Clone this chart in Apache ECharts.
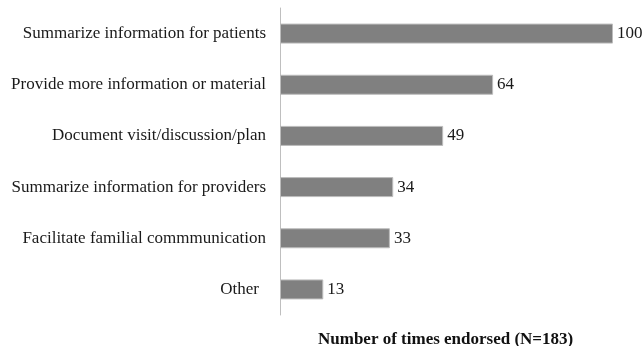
<!DOCTYPE html>
<html>
<head>
<meta charset="utf-8">
<script src="https://cdn.jsdelivr.net/npm/echarts@6/dist/echarts.min.js"></script>
<style>
  html, body { margin: 0; padding: 0; background: #fff; }
  #chart { width: 644px; height: 346px; }
</style>
</head>
<body>
<div id="chart"></div>
<script>
// Uses of the visit summary, most endorsed first
const categories = [
  'Summarize information for patients',
  'Provide more information or material',
  'Document visit/discussion/plan',
  'Summarize information for providers',
  'Facilitate familial commmunication',
  'Other'
];
const endorsed = [100, 64, 49, 34, 33, 13];
const axisTitle = 'Number of times endorsed (N=183)';

const chart = echarts.init(document.getElementById('chart'), null, { renderer: 'canvas' });
const serif = '"Liberation Serif", "Times New Roman", serif';

chart.setOption({
  animation: false,
  backgroundColor: '#ffffff',
  grid: { left: 280, right: 31, top: 8, bottom: 31, containLabel: false },
  xAxis: {
    type: 'value',
    min: 0,
    max: 100,
    show: false
  },
  yAxis: {
    type: 'category',
    inverse: true,
    data: categories,
    axisLine: { show: true, lineStyle: { color: '#bfbfbf', width: 1 } },
    axisTick: { show: false },
    axisLabel: {
      margin: 14,
      color: '#1a1a1a',
      fontFamily: serif,
      fontSize: 17,
      formatter: function (v) {
        return v === 'Other' ? '{short|' + v + '}' : v;
      },
      rich: {
        short: { fontFamily: serif, fontSize: 17, color: '#1a1a1a', padding: [0, 7, 0, 0] }
      }
    }
  },
  series: [{
    type: 'bar',
    data: endorsed,
    barWidth: 20,
    itemStyle: { color: '#808080', borderColor: '#bcbcbc', borderWidth: 1 },
    label: {
      show: true,
      position: 'right',
      distance: 4,
      color: '#1a1a1a',
      fontFamily: serif,
      fontSize: 17
    }
  }],
  graphic: [{
    type: 'text',
    left: 318,
    top: 331,
    style: {
      text: axisTitle,
      fill: '#111',
      font: 'bold 17px ' + serif
    }
  }]
});
</script>
</body>
</html>
